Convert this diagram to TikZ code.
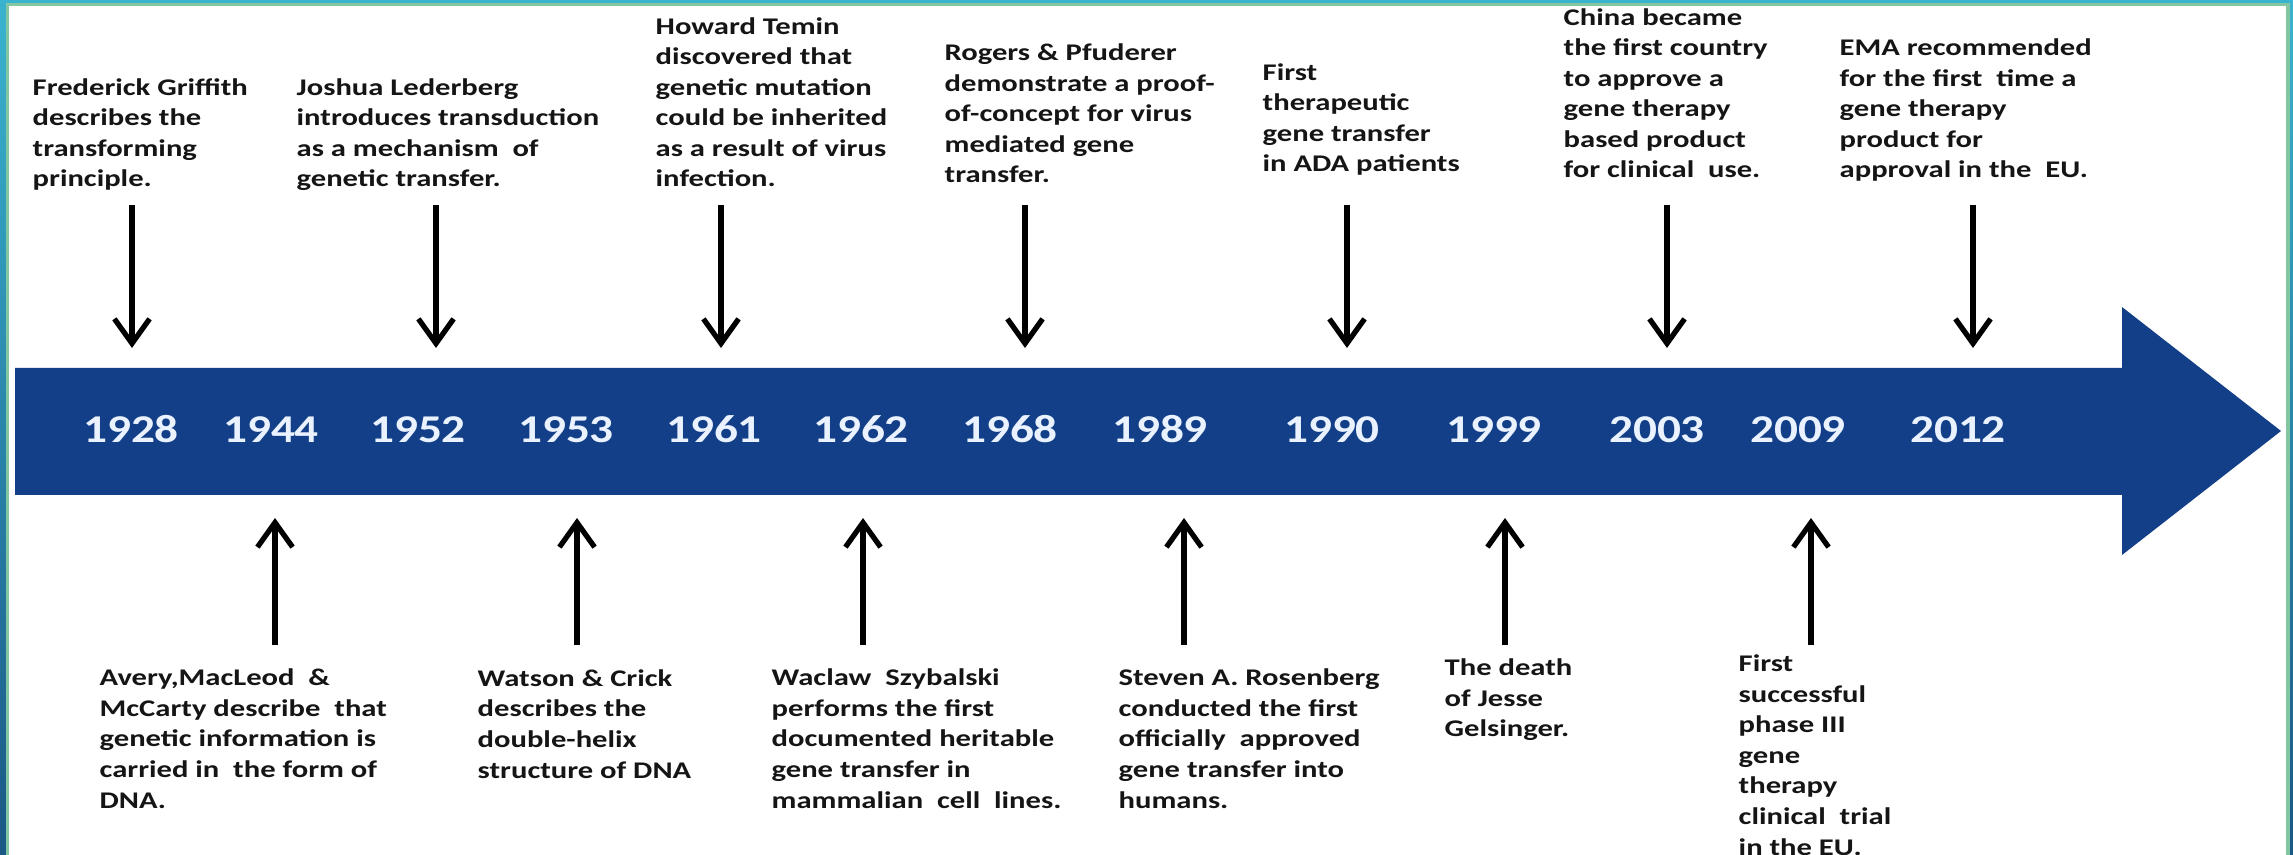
\documentclass[tikz,border=0pt]{standalone}
\usepackage{fontspec}
\setmainfont{Carlito}
\newfontfamily\evfont{Carlito}[FakeStretch=1.28]
\newfontfamily\yrfont{Carlito}[FakeStretch=1.2]
\usepackage{xcolor}
\usepackage{tikz}
\usetikzlibrary{arrows.meta}
\usetikzlibrary{calc}
\definecolor{bandcolor}{HTML}{123F87}
\definecolor{framecolor}{HTML}{3AB3CF}
\definecolor{framedark}{HTML}{1B5886}
\definecolor{frameline}{HTML}{82C7A2}
\definecolor{evcolor}{HTML}{151515}
\definecolor{yrcolor}{HTML}{EAF2FF}

%% evtext nodes are placed at the baseline of their last line
\tikzset{
  evtext/.style={anchor=base west, align=left, inner sep=0pt, text=evcolor,
    font=\evfont\bfseries\fontsize{6.8}{8.68}\selectfont},
  yrtext/.style={anchor=base, inner sep=0pt, text=yrcolor,
    font=\yrfont\bfseries\fontsize{11.2}{13}\selectfont},
  evarrow/.style={line width=1.5pt, -{Straight Barb[length=7pt,width=10pt]}}
}

\begin{document}
\begin{tikzpicture}[x=0.01cm,y=-0.01cm]
\useasboundingbox (0,0) rectangle (2293,855);
\fill[white] (0,0) rectangle (2293,855);
%% frame of the slide
\fill[framecolor] (0,0) rectangle (2293,3);
\shade[top color=framecolor, bottom color=framedark] (0,0) rectangle (6,855);
\fill[frameline] (6,3) rectangle (2290,6);
\fill[frameline] (6,3) rectangle (9,855);
\fill[frameline] (2286,3) rectangle (2290,855);
\shade[top color=framecolor, bottom color=framedark] (2290,0) rectangle (2293,855);

%% time line
\fill[bandcolor] (15,368) -- (2122,368) -- (2122,307) -- (2281,431) -- (2122,555) -- (2122,495) -- (15,495) -- cycle;
\foreach \xx/\yr in {131/1928, 271/1944, 418/1952, 566/1953, 714/1961, 861/1962, 1010/1968, 1160/1989, 1332/1990, 1494/1999, 1657/2003, 1798/2009, 1958/2012}
    \node[yrtext] (y\yr) at (\xx,443) {\yr};

%% arrows from above
\foreach \xx/\yr in {132/1928, 436/1952, 721/1961, 1025/1968, 1347/1990, 1667/2003, 1973/2012}
{
    \coordinate (s\yr) at (\xx,205);
    \coordinate (e\yr) at (\xx,348);
    \draw[evarrow] (s\yr) -- (e\yr);
}
%% arrows from below
\foreach \xx/\yr in {275/1944, 577/1953, 863/1962, 1184/1989, 1505/1999, 1811/2009}
{
    \coordinate (s\yr) at (\xx,645);
    \coordinate (e\yr) at (\xx,518);
    \draw[evarrow] (s\yr) -- (e\yr);
}

\node[evtext] (ev1928) at (32,187) {Frederick Griffith\\describes the\\transforming\\principle.};
\node[evtext] (ev1952) at (296,187) {Joshua Lederberg\\introduces transduction\\as a mechanism\ \ of\\genetic transfer.};
\node[evtext] (ev1961) at (655,187) {Howard Temin\\discovered that\\genetic mutation\\could be inherited\\as a result of virus\\infection.};
\node[evtext] (ev1968) at (944,183) {Rogers \& Pfuderer\\demonstrate a proof-\\of-concept for virus\\mediated gene\\transfer.};
\node[evtext] (ev1990) at (1262,172) {First\\therapeutic\\gene transfer\\in ADA patients};
\node[evtext] (ev2003) at (1563,178) {China became\\the first country\\to approve a\\gene therapy\\based product\\for clinical\ \ use.};
\node[evtext] (ev2012) at (1839,178) {EMA recommended\\for the first\ \ time a\\gene therapy\\product for\\approval in the\ \ EU.};

\node[evtext] (ev1944) at (99,808) {Avery,MacLeod\ \ \&\\McCarty describe\ \ that\\genetic information is\\carried in\ \ the form of\\DNA.};
\node[evtext] (ev1953) at (477,778) {Watson \& Crick\\describes the\\double-helix\\structure of DNA};
\node[evtext] (ev1962) at (771,808) {Waclaw\ \ Szybalski\\performs the first\\documented heritable\\gene transfer in\\mammalian\ \ cell\ \ lines.};
\node[evtext] (ev1989) at (1118,808) {Steven A. Rosenberg\\conducted the first\\officially\ \ approved\\gene transfer into\\humans.};
\node[evtext] (ev1999) at (1444,737) {The death\\of Jesse\\Gelsinger.};
\node[evtext] (ev2009) at (1738,855) {First\\successful\\phase III\\gene\\therapy\\clinical\ \ trial\\in the EU.};
\end{tikzpicture}
\end{document}
